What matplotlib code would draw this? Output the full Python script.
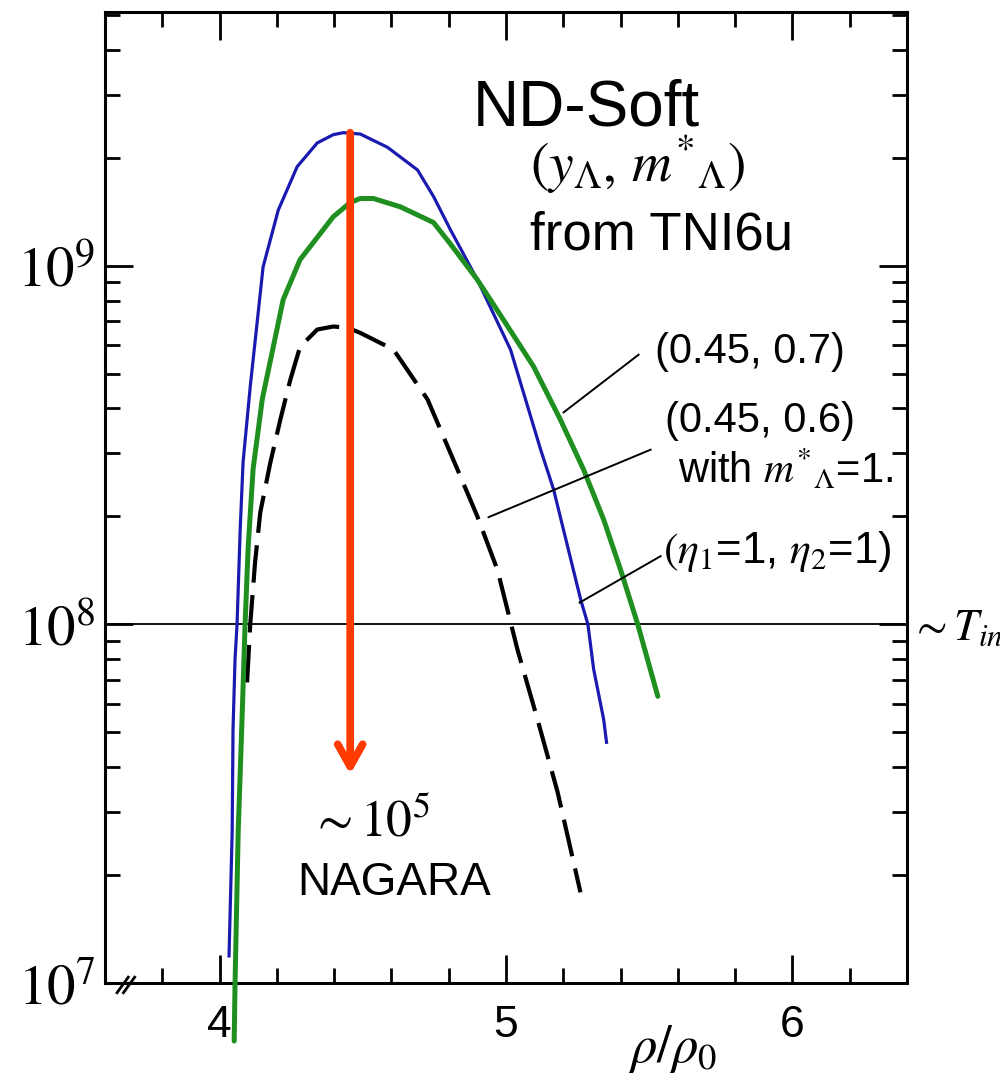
import matplotlib
matplotlib.use('Agg')
import matplotlib.pyplot as plt
from matplotlib.ticker import MultipleLocator, LogLocator, NullFormatter

plt.rcParams['font.family'] = ['Liberation Sans', 'DejaVu Sans']
plt.rcParams['mathtext.fontset'] = 'stix'

# ---------------- data ----------------
rho_blue = [4.033, 4.044, 4.047, 4.054, 4.061, 4.072, 4.082, 4.107, 4.152, 4.205,
            4.271, 4.341, 4.397, 4.432, 4.491, 4.586, 4.691, 4.747, 4.806, 4.900,
            5.016, 5.121, 5.166, 5.215, 5.261, 5.286, 5.306, 5.341, 5.351]
val_blue = [1.19e7, 2.64e7, 5.10e7, 8.0e7, 1.0e8, 1.84e8, 2.83e8, 4.6e8, 9.93e8, 1.43e9,
            1.89e9, 2.20e9, 2.32e9, 2.35e9, 2.33e9, 2.14e9, 1.85e9, 1.56e9, 1.26e9, 9.14e8,
            5.83e8, 3.07e8, 2.38e8, 1.65e8, 1.17e8, 1.0e8, 7.5e7, 5.43e7, 4.69e7]

rho_green = [4.051, 4.054, 4.065, 4.079, 4.089, 4.100, 4.117, 4.149, 4.222, 4.281,
             4.397, 4.456, 4.491, 4.537, 4.631, 4.747, 4.806, 4.900, 4.998, 5.096,
             5.190, 5.271, 5.341, 5.400, 5.460, 5.530]
val_green = [6.89e6, 9.94e6, 2.64e7, 5.61e7, 1.0e8, 1.65e8, 2.71e8, 4.24e8, 8.04e8, 1.04e9,
             1.37e9, 1.50e9, 1.54e9, 1.54e9, 1.46e9, 1.32e9, 1.15e9, 9.14e8, 6.93e8, 5.24e8,
             3.72e8, 2.70e8, 1.96e8, 1.42e8, 1.0e8, 6.30e7]

rho_black = [4.096, 4.107, 4.124, 4.142, 4.177, 4.212, 4.247, 4.281, 4.341, 4.397,
             4.446, 4.491, 4.607, 4.726, 4.830, 4.900, 4.970, 5.040, 5.110, 5.180, 5.260]
val_black = [6.89e7, 1.0e8, 1.49e8, 2.05e8, 2.82e8, 3.72e8, 4.81e8, 5.94e8, 6.64e8, 6.77e8,
             6.72e8, 6.50e8, 5.84e8, 4.24e8, 2.71e8, 2.00e8, 1.42e8, 8.51e7, 5.43e7, 3.41e7,
             1.79e7]

t_in_level = 1.0e8
arrow_rho = 4.456
arrow_from = 2.35e9
arrow_to = 3.82e7

# leader lines: (rho_start, val_start, rho_end, val_end)
leader_07 = [5.201, 3.90e8, 5.463, 5.65e8]
leader_06 = [4.939, 1.99e8, 5.505, 3.07e8]
leader_eta = [5.257, 1.15e8, 5.540, 1.55e8]

xticks = [4, 5, 6]
xticklabels = ['4', '5', '6']
yticks = [1e7, 1e8, 1e9]
yticklabels = [r'$10^7$', r'$10^8$', r'$10^9$']

# ---------------- figure ----------------
fig = plt.figure(figsize=(10, 10.74), dpi=100)
ax = fig.add_axes([0.105, 91 / 1074, 0.802, 971 / 1074])
ax.set_yscale('log')
ax.set_xlim(3.6, 6.4)
ax.set_ylim(1e7, 5.1e9)

for s in ax.spines.values():
    s.set_linewidth(2.2)

ax.set_xticks(xticks)
ax.set_xticklabels(xticklabels)
ax.xaxis.set_minor_locator(MultipleLocator(0.2))
ax.set_yticks(yticks)
ax.set_yticklabels(yticklabels)
ax.yaxis.set_minor_locator(LogLocator(base=10, subs=range(2, 10)))
ax.yaxis.set_minor_formatter(NullFormatter())

ax.tick_params(which='both', direction='in', top=True, right=True, width=2)
ax.tick_params(which='major', length=20)
ax.tick_params(which='minor', length=11)
ax.tick_params(axis='x', which='major', labelsize=32, pad=16)
ax.tick_params(axis='y', which='major', labelsize=41, pad=7)

# reference level
ax.axhline(t_in_level, color='black', lw=1.3, zorder=2)

# curves
ax.plot(rho_blue, val_blue, color='#1a1ab0', lw=2.3, zorder=3, solid_joinstyle='round')
ax.plot(rho_black, val_black, color='black', lw=3.0, dashes=(9, 3), zorder=3)
ax.plot(rho_green, val_green, color='#1f8f1f', lw=3.6, zorder=4, clip_on=False,
        solid_capstyle='round', solid_joinstyle='round')

# arrow
ax.annotate('', xy=(arrow_rho, arrow_to), xytext=(arrow_rho, arrow_from),
            arrowprops=dict(arrowstyle='->,head_length=0.8,head_width=0.45',
                            color='#ff3a00', lw=5.5, shrinkA=0, shrinkB=0,
                            mutation_scale=20), zorder=6)

# leader lines
for L in (leader_07, leader_06, leader_eta):
    ax.plot([L[0], L[2]], [L[1], L[3]], color='black', lw=1.4, zorder=5)

# texts
T = ax.transAxes
ax.text(0.600, 0.8836, 'ND-Soft', transform=T, fontsize=46, ha='center', va='baseline')
ax.text(0.530, 0.8249, r'$(y_{\Lambda},\, m^{*}{}_{\Lambda})$', transform=T, fontsize=40,
        ha='left', va='baseline')
ax.text(0.530, 0.7549, 'from TNI6u', transform=T, fontsize=38, ha='left', va='baseline')
ax.text(0.686, 0.6385, '(0.45, 0.7)', transform=T, fontsize=30, ha='left', va='baseline')
ax.text(0.698, 0.5675, '(0.45, 0.6)', transform=T, fontsize=30, ha='left', va='baseline')
ax.text(0.714, 0.5149, r'with $m^{*}{}_{\Lambda}$=1.', transform=T, fontsize=30,
        ha='left', va='baseline')
ax.text(0.696, 0.4325, r'$(\eta_1$=1, $\eta_2$=1)', transform=T, fontsize=31.5,
        ha='left', va='baseline')
ax.text(0.2556, 0.1504, r'$\sim 10^5$', transform=T, fontsize=37, ha='left', va='baseline')
ax.text(0.2394, 0.0906, 'NAGARA', transform=T, fontsize=33, ha='left', va='baseline')
ax.text(1.004, 0.3532, r'$\sim T_{in}$', transform=T, fontsize=32, ha='left',
        va='baseline', clip_on=False)
ax.text(0.708, -0.068, r'$\rho/\rho_0$', transform=T, fontsize=38, ha='center',
        va='center', clip_on=False)

# axis break marks
for x0 in (0.015, 0.023):
    ax.plot([x0, x0 + 0.014], [-0.010, 0.006], transform=T, color='black', lw=2,
            clip_on=False, zorder=7)

fig.savefig('out.png', dpi=100)
